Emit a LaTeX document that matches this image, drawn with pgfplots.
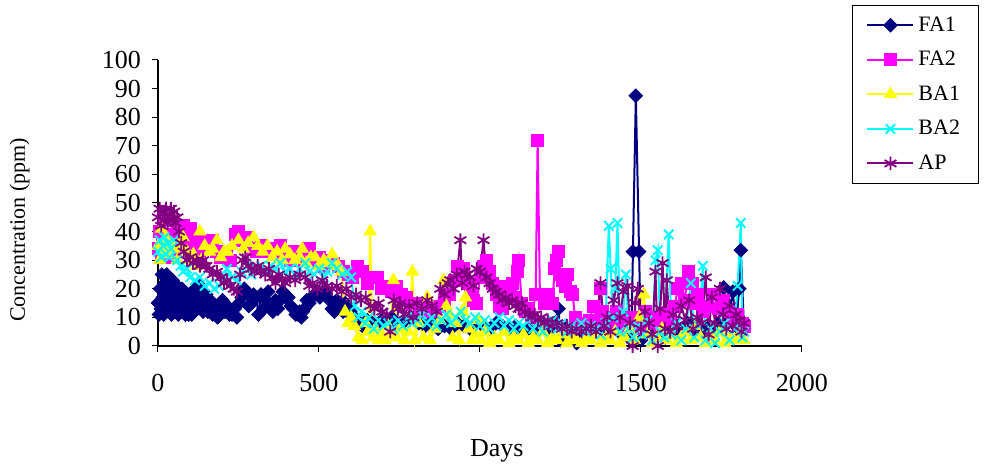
\documentclass[border=0pt]{standalone}
\usepackage{fontspec}
\setmainfont{Liberation Serif}
\usepackage{pgfplots}
\pgfplotsset{compat=1.18}

\definecolor{fanavy}{RGB}{0,0,128}
\definecolor{famag}{RGB}{255,0,255}
\definecolor{bayel}{RGB}{255,255,0}
\definecolor{bacyan}{RGB}{0,255,255}
\definecolor{appurp}{RGB}{128,0,128}

\newcommand{\lbl}{\fontsize{13}{15}\selectfont}
\newcommand{\ylbl}{\fontsize{11}{13}\selectfont}
\newcommand{\lgd}{\fontsize{11}{13}\selectfont}

\begin{document}
\begin{tikzpicture}
\useasboundingbox (-79pt,-59pt) rectangle (414.5pt,173pt);
\begin{axis}[
  scale only axis,
  width=322pt, height=143pt,
  xmin=0, xmax=2000, ymin=0, ymax=100,
  axis x line=bottom, axis y line=left,
  axis line style={-, black, line width=0.6pt},
  xtick={0,500,1000,1500,2000},
  ytick={0,10,...,100},
  tick align=outside,
  major tick length=3pt,
  tick style={black, line width=0.5pt},
  clip=false,
  /pgf/number format/assume math mode=true,
  /pgf/number format/1000 sep={},
  xticklabel style={font=\lbl, anchor=center, yshift=-15.5pt},
  yticklabel style={font=\lbl, xshift=-2pt},
  xlabel={Days},
  ylabel={Concentration (ppm)},
  xlabel style={font=\lbl, at={(axis description cs:0.526,-0.365)}, anchor=center},
  ylabel style={font=\ylbl, at={(axis description cs:-0.215,0.406)}, anchor=center},
  legend style={at={(axis description cs:1.0776,1.1923)}, anchor=north west,
    font=\lgd, draw=black, line width=0.5pt, inner xsep=7pt, inner ysep=3.5pt,
    row sep=4.5pt, legend cell align=left},
  legend image code/.code={\draw[mark repeat=2,mark phase=2] plot coordinates {(0pt,0pt) (11.5pt,0pt) (23pt,0pt)};},
  every axis plot/.append style={line width=1pt},
]
% FA1
\addplot[color=fanavy, mark=square*, mark size=2.4pt, mark options={rotate=45, solid, line width=0.4pt}] coordinates {
(0,15) (3,11) (6,20) (9,13) (12,25) (15,17) (18,11) (21,22) (24,14) (27,25) (30,19) (33,12) (36,21) (39,15) (42,11) (45,23) (48,17) (51,12) (54,20) (57,14) (60,21) (63,11) (66,18) (70,12) (75,20) (80,15) (85,11) (90,18) (95,11) (100,14) (105,11) (110,17) (115,20) (120,13) (125,16) (130,21) (135,19) (140,12) (145,15) (150,18) (155,12) (162,16) (170,11) (178,13) (185,10) (192,14) (200,16) (208,12) (215,14) (222,11) (230,11) (238,13) (245,10) (252,15) (260,17) (268,20) (275,19) (282,14) (290,15) (297,18) (305,17) (312,11) (320,18) (328,13) (335,16) (342,19) (350,14) (357,12) (365,16) (372,13) (380,16) (388,19) (397,17) (405,17) (412,14) (420,13) (428,11) (435,11) (440,12) (445,10) (450,12) (455,13) (462,16) (470,15) (478,17) (487,18) (495,19) (503,17) (510,18) (518,19) (525,17) (533,16) (540,13) (548,12) (555,16) (560,15) (565,15) (570,13) (575,12) (582,15) (590,14) (597,12) (605,10) (620,9) (635,7) (650,9) (665,8) (680,7) (695,9) (710,8) (725,10) (740,7) (760,8) (780,9) (795,10) (810,8) (830,7) (850,9) (870,6) (890,7) (910,6) (930,8) (950,7) (970,6) (990,8) (1010,7) (1030,6) (1050,8) (1070,7) (1090,6) (1110,7) (1130,5) (1150,6) (1170,5) (1190,7) (1210,6) (1230,8) (1244,13) (1250,2) (1265,6) (1280,5) (1300,1) (1320,4) (1340,5) (1360,6) (1380,4) (1400,5) (1420,6) (1440,4) (1460,5) (1470,2) (1475,33) (1484,87.5) (1494,33) (1500,2) (1515,5) (1530,7) (1545,4) (1560,6) (1575,3) (1590,5) (1605,7) (1620,4) (1635,6) (1645,8) (1660,5) (1675,7) (1690,4) (1705,6) (1720,5) (1740,8) (1757,20.5) (1770,9) (1785,19) (1795,7) (1805,20) (1810,33.5) (1820,6)
};
\addlegendentry{FA1}
% FA2
\addplot[color=famag, mark=square*, mark size=3pt, mark options={solid, line width=0.4pt}] coordinates {
(0,34) (5,40) (10,31) (15,37) (20,44) (25,33) (30,39) (35,31) (40,36) (50,32) (60,41) (70,38) (80,42) (90,36) (100,41) (110,39) (120,35) (130,33) (140,37) (150,36) (160,34) (170,37) (180,33) (195,31) (210,32) (225,30) (240,39) (250,40) (260,37) (275,38) (290,34) (305,33) (320,35) (335,33) (350,34) (365,32) (380,35) (395,31) (410,30) (425,33) (440,32) (455,30) (470,34) (485,30) (500,31) (515,28) (530,30) (545,29) (560,28) (575,26) (590,25) (605,24) (620,28) (635,26) (650,22) (665,24) (680,24) (695,20) (710,21) (725,19) (740,21) (755,18) (770,17) (785,15) (800,15) (815,13) (830,12) (845,12) (860,13) (875,14) (890,16) (905,18) (920,23) (930,28) (940,25) (950,27) (960,22) (970,20) (980,16) (990,15) (1000,24) (1010,28) (1020,30) (1030,26) (1040,22) (1050,18) (1060,14) (1070,13) (1080,21) (1090,20) (1100,22) (1110,17) (1115,26) (1120,30) (1130,15) (1140,12) (1150,13) (1160,10) (1173,18) (1179,72) (1186,18) (1200,15) (1213,18) (1225,15) (1232,27) (1238,30) (1243,33) (1250,25) (1257,23) (1265,21) (1272,25) (1280,19) (1288,18) (1295,10) (1310,8) (1325,7) (1340,9) (1353,14) (1365,8) (1374,20) (1380,12) (1395,10) (1410,8) (1425,12) (1440,9) (1455,7) (1470,10) (1485,8) (1500,6) (1515,12) (1530,8) (1545,10) (1560,7) (1575,11) (1590,9) (1605,14) (1614,20) (1625,22) (1635,16) (1648,26) (1660,22) (1670,15) (1676,18) (1690,12) (1705,14) (1726,18) (1740,13) (1755,16) (1770,12) (1785,9) (1800,11) (1815,8) (1820,7)
};
\addlegendentry{FA2}
% BA1
\addplot[color=bayel, mark=triangle*, mark size=3.5pt, mark options={solid, line width=0.4pt}] coordinates {
(0,35) (5,30) (10,41) (15,36) (20,33) (25,38) (30,32) (40,35) (50,34) (60,30) (70,35) (78,38) (90,33) (100,30) (110,32) (120,28) (130,40) (135,30) (145,35) (160,33) (170,34) (183,37) (195,31) (205,33) (215,33) (230,35) (250,37) (265,34) (280,36) (297,38) (310,35) (325,33) (340,35) (355,31) (370,33) (385,30) (395,34) (410,32) (425,30) (440,31) (448,34) (460,29) (475,31) (488,31) (500,28) (515,30) (530,29) (541,32) (550,28) (560,28) (570,26) (581,12) (590,8) (600,10) (610,7) (622,3) (634,2) (645,8) (652,5) (659,40) (666,3) (675,6) (685,2) (695,4) (705,2) (715,7) (722,4) (731,23) (740,3) (752,6) (765,2) (778,5) (790,26) (798,2) (810,8) (825,3) (836,17) (845,2) (860,6) (875,9) (887,23) (895,14) (905,11) (915,3) (925,8) (935,2) (945,12) (955,17) (965,6) (975,2) (985,4) (995,9) (1005,2) (1015,5) (1030,1) (1045,3) (1060,2) (1075,5) (1090,1) (1105,3) (1120,2) (1135,4) (1150,1) (1165,3) (1180,2) (1195,5) (1210,1) (1225,3) (1240,2) (1255,4) (1270,1) (1285,3) (1300,2) (1315,1) (1330,3) (1345,2) (1360,4) (1375,1) (1390,3) (1405,2) (1420,5) (1435,1) (1450,3) (1465,6) (1480,2) (1495,10) (1509,18) (1520,4) (1535,1) (1550,3) (1565,6) (1580,2) (1595,4) (1610,1) (1625,3) (1640,5) (1655,2) (1670,7) (1685,3) (1700,1) (1715,4) (1730,2) (1745,5) (1760,1) (1775,3) (1790,2) (1805,4) (1820,2)
};
\addlegendentry{BA1}
% BA2
\addplot[color=bacyan, mark=x, mark size=3.3pt, mark options={solid, line width=1pt}] coordinates {
(0,33) (5,37) (10,31) (15,35) (20,38) (25,32) (30,36) (35,31) (40,34) (50,37) (60,30) (70,28) (78,26) (90,27) (100,24) (115,23) (130,24) (145,21) (160,22) (175,20) (190,21) (205,23) (214,27) (230,24) (245,23) (260,26) (277,28) (290,25) (305,27) (320,28) (335,26) (350,28) (365,27) (380,29) (395,26) (410,27) (425,25) (440,27) (457,29) (470,26) (485,25) (500,27) (515,24) (526,26) (540,29) (555,27) (572,25) (588,26) (600,24) (611,14) (622,10) (633,12) (644,8) (655,10) (670,6) (685,9) (700,7) (715,8) (730,6) (745,9) (760,7) (775,10) (790,8) (805,9) (820,11) (835,8) (850,10) (865,7) (880,9) (895,11) (910,8) (925,10) (940,12) (955,9) (970,8) (985,10) (1000,7) (1015,9) (1030,6) (1045,8) (1060,10) (1075,7) (1090,9) (1105,6) (1120,8) (1135,7) (1150,9) (1165,6) (1180,8) (1195,5) (1210,7) (1225,9) (1240,6) (1255,8) (1270,5) (1285,7) (1300,6) (1315,8) (1330,5) (1345,7) (1360,6) (1375,4) (1390,8) (1400,42) (1406,27) (1413,10) (1420,20) (1427,43) (1435,5) (1445,12) (1453,25) (1462,6) (1475,3) (1490,7) (1505,4) (1520,9) (1535,2) (1545,30) (1552,33.5) (1560,5) (1572,3) (1586,39) (1595,4) (1610,8) (1625,2) (1640,6) (1655,22) (1665,3) (1680,7) (1692,28) (1700,2) (1715,6) (1730,1) (1745,5) (1760,8) (1775,2) (1790,6) (1800,21) (1810,43) (1815,3) (1820,5)
};
\addlegendentry{BA2}
% AP
\addplot[color=appurp, mark=asterisk, mark size=3.4pt, mark options={solid, line width=0.9pt}] coordinates {
(0,45) (5,48) (10,42) (15,47) (20,44) (25,48) (30,43) (35,46) (40,48) (45,44) (50,47) (55,43) (60,45) (65,40) (72,36) (80,33) (90,30) (100,31) (109,29) (120,30) (130,28) (140,30) (150,28) (160,27) (170,25) (183,26) (195,24) (205,22) (214,23) (225,21) (235,20) (245,19) (255,25) (263,30) (271,31) (280,28) (290,27) (300,26) (310,28) (320,26) (333,25) (345,27) (355,24) (365,22) (375,25) (385,23) (395,22) (410,24) (426,23) (440,25) (457,24) (470,21) (480,22) (495,20) (510,23) (525,21) (540,20) (555,21) (570,19) (585,20) (600,17) (615,18) (630,16) (645,17) (660,14) (672,13) (685,15) (697,12) (710,11) (721,5) (732,16) (745,13) (752,15) (765,11) (780,14) (793,10) (805,15) (820,13) (836,16) (850,14) (865,12) (877,20) (890,18) (900,22) (908,23) (918,20) (928,25) (939,37) (945,22) (952,26) (960,25) (970,24) (980,21) (990,27) (1000,26) (1011,37) (1020,24) (1030,22) (1040,20) (1050,19) (1060,18) (1070,16) (1080,17) (1090,15) (1100,16) (1110,14) (1120,13) (1130,15) (1140,12) (1150,11) (1160,10) (1170,11) (1180,9) (1190,10) (1200,8) (1210,9) (1225,7) (1240,8) (1255,6) (1270,7) (1285,5) (1300,6) (1315,5) (1330,6) (1345,7) (1360,5) (1374,22) (1385,7) (1395,10) (1405,5) (1415,16) (1427,22) (1435,10) (1445,19) (1458,21) (1466,8) (1474,0) (1482,15) (1490,20) (1500,6) (1512,12) (1525,8) (1535,4) (1545,26) (1552,0) (1560,13) (1567,29) (1575,6) (1580,23) (1590,5) (1600,11) (1612,7) (1625,14) (1638,9) (1650,16) (1662,6) (1675,10) (1688,8) (1701,24) (1710,4) (1720,17) (1730,8) (1745,20) (1755,11) (1765,6) (1775,14) (1785,7) (1795,11) (1805,9) (1812,5) (1820,8)
};
\addlegendentry{AP}
\end{axis}
\end{tikzpicture}
\end{document}
